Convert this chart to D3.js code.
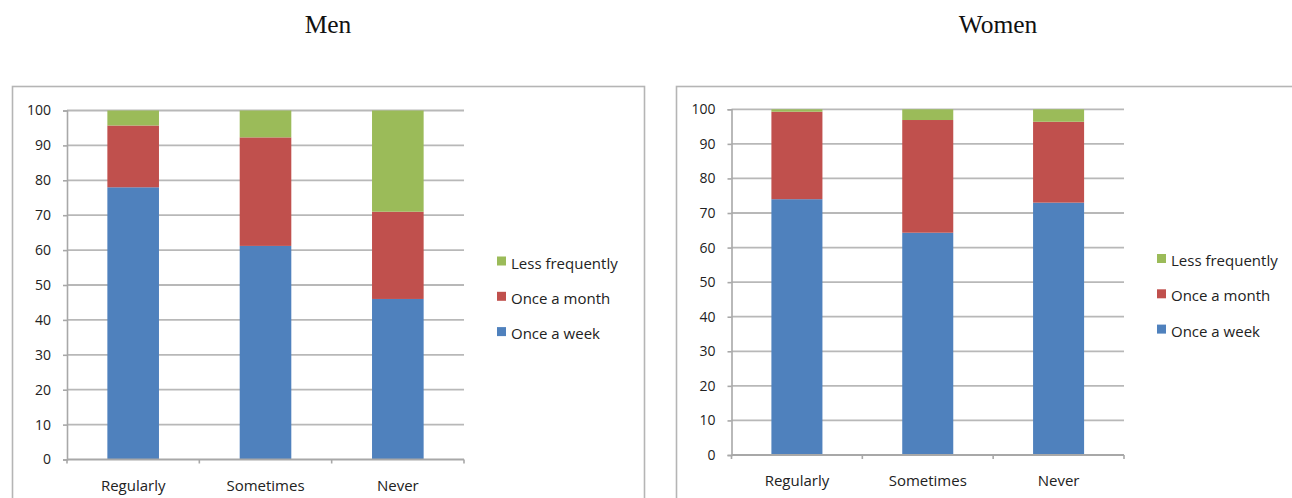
<!DOCTYPE html>
<html>
<head>
<meta charset="utf-8">
<script src="https://cdn.jsdelivr.net/npm/d3@7"></script>
<style>
  html, body { margin: 0; padding: 0; background: #fff; }
  svg { display: block; }
</style>
</head>
<body>
<svg id="chart" width="1292" height="498"></svg>
<script>
// Survey categories and stacked series (percent of respondents)
const categories = ["Regularly", "Sometimes", "Never"];
const seriesNames = ["Once a week", "Once a month", "Less frequently"];
const seriesColors = ["#4f81bd", "#c0504d", "#9bbb59"];
const yTicks = [0, 10, 20, 30, 40, 50, 60, 70, 80, 90, 100];

const menWeek = [78, 61.2, 46];
const menMonth = [17.7, 31.1, 25];
const menLess = [4.3, 7.7, 29];

const womenWeek = [74, 64.3, 73];
const womenMonth = [25.3, 32.6, 23.4];
const womenLess = [0.7, 3.1, 3.6];

const svg = d3.select("#chart");
const labelFont = "'Open Sans', 'Liberation Sans', sans-serif";

function drawPanel(opt) {
  const rows = categories.map((c, i) => ({
    cat: c,
    "Once a week": opt.week[i],
    "Once a month": opt.month[i],
    "Less frequently": opt.less[i]
  }));
  const stacked = d3.stack().keys(seriesNames)(rows);

  const x = d3.scaleBand().domain(categories)
    .range([opt.left, opt.right]).paddingInner(0.61).paddingOuter(0.305);
  const y = d3.scaleLinear().domain([0, 100]).range([opt.bottom, opt.top]);

  const g = svg.append("g");

  // chart frame
  g.append("rect")
    .attr("x", opt.frame[0]).attr("y", opt.frame[1])
    .attr("width", opt.frame[2]).attr("height", opt.frame[3])
    .attr("fill", "none").attr("stroke", "#b5b5b5").attr("stroke-width", 1.6);

  // panel title
  svg.append("text")
    .attr("x", opt.titleX).attr("y", 24)
    .attr("text-anchor", "middle").attr("dominant-baseline", "central")
    .attr("font-family", "'Liberation Serif', 'Times New Roman', serif")
    .attr("font-size", 25.5).attr("fill", "#111")
    .text(opt.title);

  // horizontal gridlines
  g.append("g").selectAll("line").data(yTicks.filter(t => t > 0)).join("line")
    .attr("x1", opt.left).attr("x2", opt.right)
    .attr("y1", d => y(d)).attr("y2", d => y(d))
    .attr("stroke", "#b8b8b8").attr("stroke-width", 1.8);

  // y axis
  const yAxis = g.append("g").attr("transform", `translate(${opt.left},0)`)
    .call(d3.axisLeft(y).tickValues(yTicks).tickSize(4).tickPadding(12));
  yAxis.select(".domain").attr("stroke", "#a8a8a8").attr("stroke-width", 1.6);
  yAxis.selectAll(".tick line").attr("stroke", "#a8a8a8").attr("stroke-width", 1.6);
  yAxis.selectAll("text").attr("font-family", labelFont).attr("font-size", 14)
    .attr("fill", "#222");

  // bars
  g.append("g").selectAll("g").data(stacked).join("g")
    .attr("fill", (d, i) => seriesColors[i])
    .selectAll("rect").data(d => d).join("rect")
    .attr("x", d => x(d.data.cat))
    .attr("width", x.bandwidth())
    .attr("y", d => y(d[1]))
    .attr("height", d => y(d[0]) - y(d[1]));

  // x axis with ticks between categories
  const xg = g.append("g").attr("transform", `translate(0,${opt.bottom})`);
  xg.append("line").attr("x1", opt.left).attr("x2", opt.right)
    .attr("stroke", "#a8a8a8").attr("stroke-width", 1.8);
  const step = x.step();
  const bounds = d3.range(categories.length + 1).map(i => opt.left + i * step);
  xg.selectAll(".sep").data(bounds).join("line")
    .attr("x1", d => d).attr("x2", d => d).attr("y1", 0).attr("y2", 4)
    .attr("stroke", "#a8a8a8").attr("stroke-width", 1.6);
  xg.selectAll("text").data(categories).join("text")
    .attr("x", d => x(d) + x.bandwidth() / 2).attr("y", opt.catDy)
    .attr("text-anchor", "middle").attr("dominant-baseline", "central")
    .attr("font-family", labelFont).attr("font-size", 15).attr("fill", "#222")
    .text(d => d);

  // legend (top entry = top of stack)
  const legendItems = seriesNames.slice().reverse();
  const lg = g.append("g").attr("transform", `translate(${opt.legendX},${opt.legendY})`);
  const item = lg.selectAll("g").data(legendItems).join("g")
    .attr("transform", (d, i) => `translate(0,${i * 35.3})`);
  item.append("rect").attr("x", 0).attr("y", -6).attr("width", 9).attr("height", 9)
    .attr("fill", d => seriesColors[seriesNames.indexOf(d)]);
  item.append("text").attr("x", 14).attr("y", 0)
    .attr("dominant-baseline", "central")
    .attr("font-family", labelFont).attr("font-size", 15).attr("fill", "#222")
    .text(d => d);
}

drawPanel({
  title: "Men", titleX: 328,
  week: menWeek, month: menMonth, less: menLess,
  left: 67, right: 464, top: 110.5, bottom: 459.5,
  frame: [12.5, 86.5, 632, 430],
  catDy: 25.5,
  legendX: 497, legendY: 262.5
});

drawPanel({
  title: "Women", titleX: 998,
  week: womenWeek, month: womenMonth, less: womenLess,
  left: 731.5, right: 1124, top: 109.3, bottom: 455,
  frame: [676.5, 86.5, 640, 430],
  catDy: 24.5,
  legendX: 1157, legendY: 260
});
</script>
</body>
</html>
